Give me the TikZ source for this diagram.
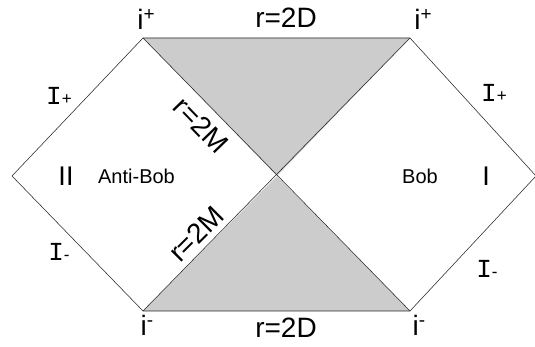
\documentclass[tikz,border=0pt]{standalone}
\usepackage{fontspec}
\setmainfont{Liberation Sans}
\newfontfamily\scrifont{Liberation Mono}
\usepackage{tikz}
\usetikzlibrary{positioning,calc}
\definecolor{horizon}{HTML}{CCCCCC}
\newcommand{\scri}[1]{{\scrifont\fontsize{26}{26}\selectfont I}{\fontsize{17}{17}\selectfont\raisebox{0.5pt}{#1}}}
\newcommand{\infpt}[1]{i\raisebox{9pt}{\fontsize{19}{19}\selectfont #1}}

\begin{document}
\begin{tikzpicture}[x=1pt, y=1pt,
        bigLabel/.style={font=\fontsize{28}{30}\selectfont, inner sep=0pt},
        regionLabel/.style={font=\fontsize{20}{22}\selectfont, inner sep=0pt},
        romanLabel/.style={font=\fontsize{27}{29}\selectfont, inner sep=0pt},
        scriLabel/.style={inner sep=0pt},
        edgeLine/.style={draw=black!85, line width=0.55pt},
        shadeStyle/.style={fill=horizon, draw=none}
    ]
        \useasboundingbox (0,0) rectangle (535,347);

        % Corners of the diagram
        \coordinate (left) at (12,171);
        \coordinate (topL) at (143,309);
        \coordinate (topR) at (410,309);
        \coordinate (right) at (536,171);
        \coordinate (botR) at (410,36);
        \coordinate (botL) at (143,36);
        \coordinate (mid) at (277,171);

        % Shaded regions
        \fill[shadeStyle] (topL) -- (topR) -- (mid) -- cycle;
        \fill[shadeStyle] (botL) -- (botR) -- (mid) -- cycle;

        % Outline and horizons
        \draw[edgeLine] (left) -- (topL) -- (topR) -- (right) -- (botR) -- (botL) -- cycle;
        \draw[edgeLine] (topL) -- (botR);
        \draw[edgeLine] (topR) -- (botL);

        % Corner labels
        \node[bigLabel] (iPlusL) at (146,328) {\infpt{+}};
        \node[bigLabel] (iPlusR) at (423,328) {\infpt{+}};
        \node[bigLabel] (iMinusL) at (147,22) {\infpt{-}};
        \node[bigLabel] (iMinusR) at (419,22) {\infpt{-}};
        \node[bigLabel] (topD) at (286,329) {r=2D};
        \node[bigLabel] (botD) at (286,19) {r=2D};

        % Horizon labels
        \node[bigLabel, rotate=-46] (upM) at (201,222) {r=2M};
        \node[bigLabel, rotate=45] (lowM) at (196,113) {r=2M};

        % Regions
        \node[regionLabel] (antiBob) at (136.5,171) {Anti-Bob};
        \node[regionLabel] (bob) at (420,171) {Bob};
        \node[romanLabel] (regII) at (66,171) {II};
        \node[romanLabel] (regI) at (486,171) {I};

        % Null infinity
        \node[scriLabel] (scriPL) at (59,251) {\scri{+}};
        \node[scriLabel] (scriML) at (59,95) {\scri{-}};
        \node[scriLabel] (scriPR) at (494,254) {\scri{+}};
        \node[scriLabel] (scriMR) at (487,78) {\scri{-}};
    \end{tikzpicture}
\end{document}
